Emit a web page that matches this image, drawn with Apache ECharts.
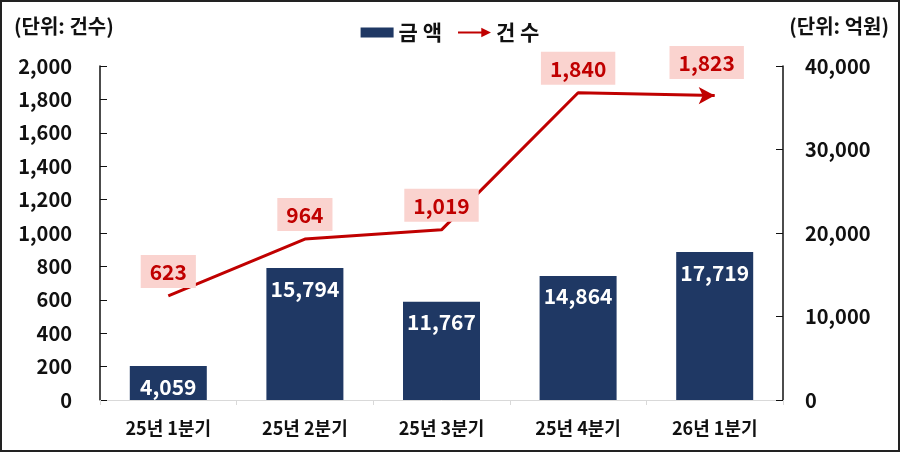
<!DOCTYPE html>
<html>
<head>
<meta charset="utf-8">
<script src="https://cdn.jsdelivr.net/npm/echarts@6/dist/echarts.min.js"></script>
<style>
  html, body { margin: 0; padding: 0; background: #fff; }
  #main { width: 900px; height: 452px; }
</style>
</head>
<body>
<div id="main"></div>
<script>
// 분기별 데이터
var categories = ['25년 1분기', '25년 2분기', '25년 3분기', '25년 4분기', '26년 1분기']
var amounts = [4059, 15794, 11767, 14864, 17719]   // 금액 (억원)
var counts = [623, 964, 1019, 1840, 1823]           // 건수

var myChart = echarts.init(document.getElementById('main'))
var fontFamily = '"Noto Sans CJK KR", "Noto Sans", sans-serif'

// 마지막 점에만 화살표
var countData = counts.map(function (v, i) {
    if (i === counts.length - 1) {
        return { value: v, symbol: 'arrow', symbolSize: [13, 16], symbolRotate: -90 }
    }
    return v
})

var option = {
    animation: false,
    textStyle: { fontFamily: fontFamily },
    graphic: [
        { type: 'rect', shape: { x: 1, y: 1, width: 898, height: 450 }, style: { fill: 'none', stroke: '#222', lineWidth: 2 } },
        { type: 'text', left: 14, top: 16, style: { text: '(단위: 건수)', fontSize: 20, fontWeight: 'bold', fill: '#111', fontFamily: fontFamily } },
        { type: 'text', right: 11, top: 16, style: { text: '(단위: 억원)', fontSize: 20, fontWeight: 'bold', fill: '#111', fontFamily: fontFamily } }
    ],
    legend: {
        top: 17,
        left: 'center',
        itemGap: 16,
        itemWidth: 33,
        itemHeight: 10,
        textStyle: { fontSize: 21, fontWeight: 'bold', color: '#111' },
        data: [
            { name: '금 액', icon: 'rect' },
            { name: '건 수', icon: 'path://M0,4 L24,4 L24,0 L34,5 L24,10 L24,6 L0,6 Z' }
        ]
    },
    grid: { left: 100, right: 117, top: 66, bottom: 52 },
    xAxis: {
        type: 'category',
        data: categories,
        axisLine: { lineStyle: { color: '#d9d9d9', width: 1 } },
        axisTick: { show: true, length: 5, lineStyle: { color: '#d9d9d9' } },
        axisLabel: { color: '#111', fontSize: 18, fontWeight: 'bold', margin: 19 }
    },
    yAxis: [
        {
            type: 'value',
            min: 0,
            max: 2000,
            interval: 200,
            position: 'left',
            axisLine: { show: true, lineStyle: { color: '#111', width: 1.5 } },
            axisTick: { show: true, inside: true, length: 7, lineStyle: { color: '#111' } },
            splitLine: { show: false },
            axisLabel: { color: '#111', fontSize: 20, fontWeight: 'bold', margin: 28 }
        },
        {
            type: 'value',
            min: 0,
            max: 40000,
            interval: 10000,
            position: 'right',
            axisLine: { show: true, lineStyle: { color: '#111', width: 1.5 } },
            axisTick: { show: true, inside: true, length: 7, lineStyle: { color: '#111' } },
            splitLine: { show: false },
            axisLabel: { color: '#111', fontSize: 20, fontWeight: 'bold', margin: 22 }
        }
    ],
    series: [
        {
            name: '금 액',
            type: 'bar',
            yAxisIndex: 1,
            barWidth: 77,
            data: amounts,
            itemStyle: { color: '#1f3864' },
            label: {
                show: true,
                position: 'insideTop',
                distance: 10,
                color: '#fff',
                fontSize: 21,
                fontWeight: 'bold',
                formatter: function (p) { return p.value.toLocaleString('en-US') }
            }
        },
        {
            name: '건 수',
            type: 'line',
            yAxisIndex: 0,
            data: countData,
            symbol: 'circle',
            symbolSize: 0,
            lineStyle: { color: '#c00000', width: 3 },
            itemStyle: { color: '#c00000' },
            label: {
                show: true,
                position: 'top',
                distance: 8,
                color: '#c00000',
                fontSize: 21,
                fontWeight: 'bold',
                backgroundColor: '#fad3cf',
                padding: [7, 9, 5, 9],
                formatter: function (p) { return p.value.toLocaleString('en-US') }
            }
        }
    ]
}

myChart.setOption(option)
</script>
</body>
</html>
